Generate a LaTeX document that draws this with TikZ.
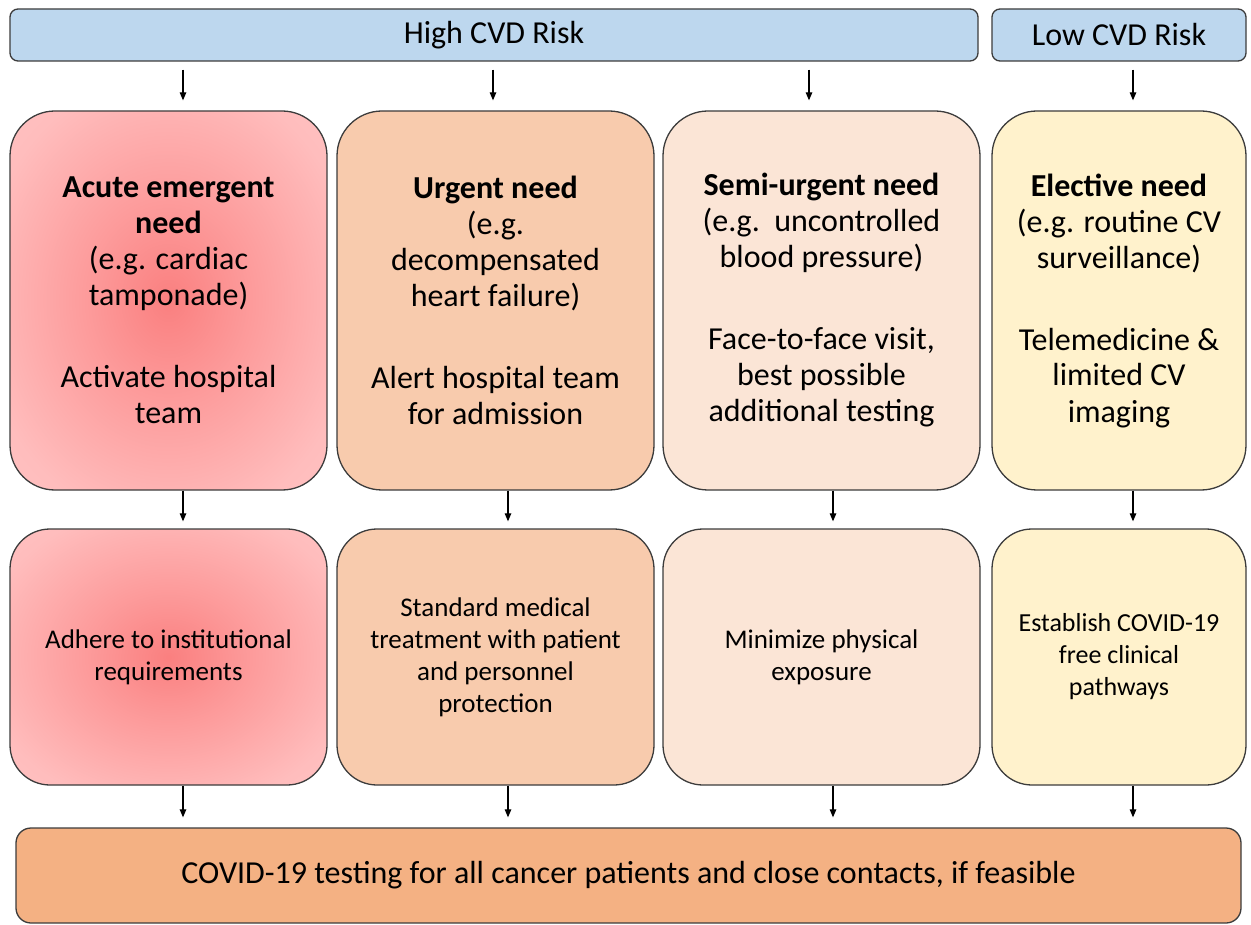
\documentclass[tikz,border=0pt]{standalone}
\usepackage{fontspec}
\setmainfont{Carlito}
\usetikzlibrary{arrows.meta}
\definecolor{riskblue}{RGB}{189,215,238}
\definecolor{urgent}{RGB}{248,203,173}
\definecolor{semi}{RGB}{251,229,214}
\definecolor{elective}{RGB}{255,242,204}
\definecolor{bottomc}{RGB}{244,177,131}
\definecolor{edge}{RGB}{60,60,60}
\pgfdeclareradialshading{redglow}{\pgfpoint{0bp}{0bp}}{rgb(0bp)=(0.98,0.5,0.5); rgb(12bp)=(0.99,0.6,0.6); rgb(30bp)=(1,0.74,0.74); rgb(50bp)=(1,0.8,0.8); rgb(100bp)=(1,0.8,0.8)}
\tikzset{
  box/.style={draw=edge, line width=1.3pt, inner sep=0pt, align=center, text=black},
  bar/.style={box, fill=riskblue, rounded corners=8pt, minimum height=52pt, font=\fontsize{32}{36}\selectfont},
  topbox/.style={box, rounded corners=45pt, minimum height=379pt, font=\fontsize{32}{36}\selectfont},
  midbox/.style={box, rounded corners=40pt, minimum height=256pt, font=\fontsize{27}{32}\selectfont},
  arr/.style={line width=1.2pt, -{Triangle[length=8pt,width=6.5pt]}}
}
\begin{document}
\begin{tikzpicture}[x=1pt,y=-1pt]
\useasboundingbox (0,0) rectangle (1251,925);
% risk bars
\node[bar, minimum width=968pt] (hi) at (494,35) {High CVD Risk};
\node[bar, minimum width=254pt] (lo) at (1119,35) {Low CVD Risk};
% first row
\node[topbox, minimum width=317pt, shading=redglow] (b1) at (168.5,300.5)
  {\textbf{Acute emergent}\\\textbf{need}\\(e.g. cardiac\\tamponade)\\[46pt]Activate hospital\\team};
\node[topbox, minimum width=317pt, fill=urgent] (b2) at (495.5,300.5)
  {\textbf{Urgent need}\\(e.g.\\decompensated\\heart failure)\\[46pt]Alert hospital team\\for admission};
\node[topbox, minimum width=317pt, fill=semi] (b3) at (821.5,300.5)
  {\textbf{Semi-urgent need}\\(e.g.\ \ uncontrolled\\blood pressure)\\[46pt]Face-to-face visit,\\best possible\\additional testing};
\node[topbox, minimum width=254pt, fill=elective] (b4) at (1119,300.5)
  {\textbf{Elective need}\\(e.g. routine CV\\surveillance)\\[46pt]Telemedicine \&\\limited CV\\imaging};
% second row
\node[midbox, minimum width=317pt, shading=redglow] (c1) at (168.5,657)
  {Adhere to institutional\\requirements};
\node[midbox, minimum width=317pt, fill=urgent] (c2) at (495.5,657)
  {Standard medical\\treatment with patient\\and personnel\\protection};
\node[midbox, minimum width=317pt, fill=semi] (c3) at (821.5,657)
  {Minimize physical\\exposure};
\node[midbox, minimum width=254pt, fill=elective, font=\fontsize{26}{32}\selectfont] (c4) at (1119,657)
  {Establish COVID-19\\free clinical\\pathways};
% bottom
\node[box, fill=bottomc, rounded corners=15pt, minimum width=1225pt, minimum height=95pt, font=\fontsize{32}{36}\selectfont] (bt) at (628.5,875.5)
  {COVID-19 testing for all cancer patients and close contacts, if feasible};
% arrow columns
\coordinate (xa) at (183,0);
\coordinate (xb) at (493,0);
\coordinate (xc) at (809,0);
\coordinate (xd) at (1133,0);
\coordinate (xe) at (508,0);
\coordinate (xf) at (833,0);
% top arrows
\draw[arr, shorten <=8pt, shorten >=10pt] (hi.south -| xa) -- (b1.north -| xa);
\draw[arr, shorten <=8pt, shorten >=10pt] (hi.south -| xb) -- (b2.north -| xb);
\draw[arr, shorten <=8pt, shorten >=10pt] (hi.south -| xc) -- (b3.north -| xc);
\draw[arr, shorten <=8pt, shorten >=10pt] (lo.south -| xd) -- (b4.north -| xd);
% middle arrows
\draw[arr, shorten >=7pt] (b1.south -| xa) -- (c1.north -| xa);
\draw[arr, shorten >=7pt] (b2.south -| xe) -- (c2.north -| xe);
\draw[arr, shorten >=7pt] (b3.south -| xf) -- (c3.north -| xf);
\draw[arr, shorten >=7pt] (b4.south -| xd) -- (c4.north -| xd);
% bottom arrows
\draw[arr, shorten >=10pt] (c1.south -| xa) -- (bt.north -| xa);
\draw[arr, shorten >=10pt] (c2.south -| xe) -- (bt.north -| xe);
\draw[arr, shorten >=10pt] (c3.south -| xf) -- (bt.north -| xf);
\draw[arr, shorten >=10pt] (c4.south -| xd) -- (bt.north -| xd);
\end{tikzpicture}
\end{document}
